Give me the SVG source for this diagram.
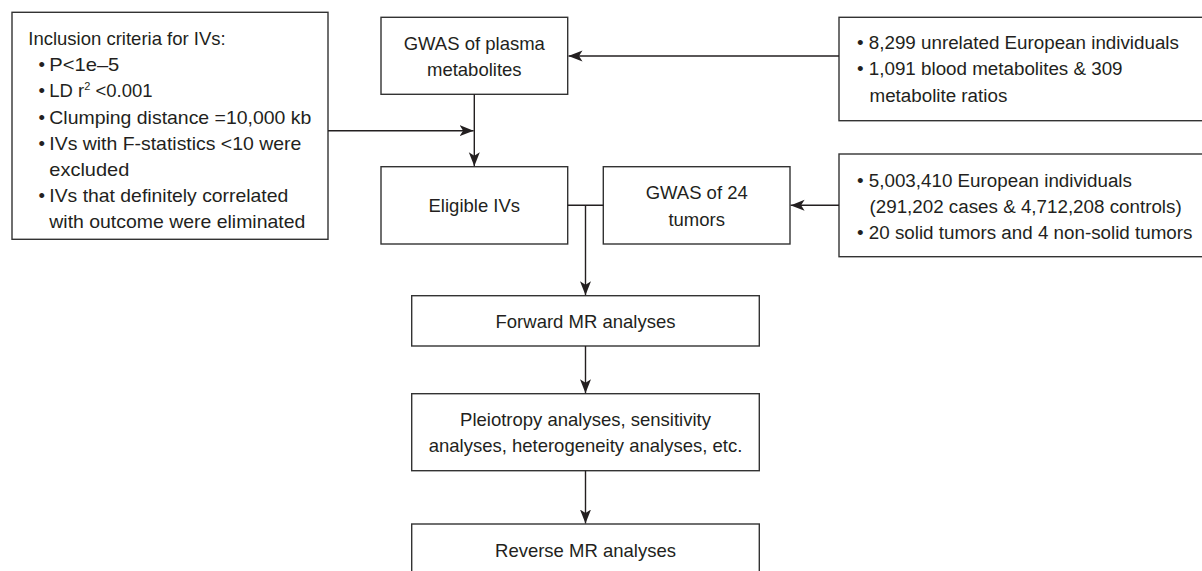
<svg xmlns="http://www.w3.org/2000/svg" width="1202" height="571" viewBox="0 0 1202 571">
  <style>
    .box { fill: #ffffff; stroke: #333333; stroke-width: 1.4; }
    .t { font-family: "Liberation Sans", Arial, Helvetica, sans-serif; font-size: 18.5px; fill: #231f20; }
    .r { font-size: 18.8px; }
    .c { text-anchor: middle; }
    .ln { fill: none; stroke: #231f20; stroke-width: 1.4; }
  </style>
  <defs>
    <marker id="arr" markerUnits="userSpaceOnUse" markerWidth="14" markerHeight="12" viewBox="0 -6 14 12" refX="14" refY="0" orient="auto">
      <path d="M0,-5.5 L14,0 L0,5.5 L3.5,0 Z" fill="#231f20"/>
    </marker>
  </defs>
  <rect width="1202" height="571" fill="#ffffff"/>

  <g id="criteria">
    <rect class="box" x="12" y="12.3" width="316" height="227"/>
    <text class="t" x="28.3" y="45">Inclusion criteria for IVs:</text>
    <text class="t" x="38.5" y="71.2">•</text>
    <text class="t" x="49.3" y="71.2" textLength="70" lengthAdjust="spacingAndGlyphs">P&lt;1e–5</text>
    <text class="t" x="38.5" y="97.4">•</text>
    <text class="t" x="49.3" y="97.4">LD r<tspan font-size="11" dy="-7.5">2</tspan><tspan dy="7.5"> &lt;0.001</tspan></text>
    <text class="t" x="38.5" y="123.6">•</text>
    <text class="t" x="49.3" y="123.6" textLength="262" lengthAdjust="spacingAndGlyphs">Clumping distance =10,000 kb</text>
    <text class="t" x="38.5" y="149.8">•</text>
    <text class="t" x="49.3" y="149.8" textLength="252" lengthAdjust="spacingAndGlyphs">IVs with F-statistics &lt;10 were</text>
    <text class="t" x="49.3" y="176" textLength="80" lengthAdjust="spacingAndGlyphs">excluded</text>
    <text class="t" x="38.5" y="202.2">•</text>
    <text class="t" x="49.3" y="202.2" textLength="239" lengthAdjust="spacingAndGlyphs">IVs that definitely correlated</text>
    <text class="t" x="49.3" y="228.4" textLength="256" lengthAdjust="spacingAndGlyphs">with outcome were eliminated</text>
  </g>

  <g id="gwas-plasma">
    <rect class="box" x="381" y="17.3" width="186.7" height="77"/>
    <text class="t c" x="474.3" y="50">GWAS of plasma</text>
    <text class="t c" x="474.3" y="76">metabolites</text>
  </g>

  <g id="metabolite-source">
    <rect class="box" x="839" y="17.3" width="400" height="103.4"/>
    <text class="t r" x="857" y="49.3">• 8,299 unrelated European individuals</text>
    <text class="t r" x="857" y="75.4">• 1,091 blood metabolites &amp; 309</text>
    <text class="t r" x="869.5" y="101.5">metabolite ratios</text>
  </g>

  <g id="eligible-ivs">
    <rect class="box" x="381" y="166.7" width="186.7" height="77.3"/>
    <text class="t c" x="474.3" y="211.7">Eligible IVs</text>
  </g>

  <g id="gwas-tumors">
    <rect class="box" x="603.3" y="166.7" width="186.7" height="77.3"/>
    <text class="t c" x="696.7" y="199">GWAS of 24</text>
    <text class="t c" x="696.7" y="225.5">tumors</text>
  </g>

  <g id="tumor-source">
    <rect class="box" x="839" y="154" width="400" height="102.7"/>
    <text class="t r" x="857" y="186.5">• 5,003,410 European individuals</text>
    <text class="t r" x="869.5" y="212.5">(291,202 cases &amp; 4,712,208 controls)</text>
    <text class="t r" x="857" y="238.5">• 20 solid tumors and 4 non-solid tumors</text>
  </g>

  <g id="forward-mr">
    <rect class="box" x="411.7" y="295.7" width="347.6" height="50.3"/>
    <text class="t c" x="585.5" y="328.3">Forward MR analyses</text>
  </g>

  <g id="pleiotropy">
    <rect class="box" x="411.7" y="393.7" width="347.6" height="77"/>
    <text class="t c" x="585.5" y="425.7">Pleiotropy analyses, sensitivity</text>
    <text class="t c" x="585.5" y="451.7">analyses, heterogeneity analyses, etc.</text>
  </g>

  <g id="reverse-mr">
    <rect class="box" x="411.7" y="524" width="347.6" height="80"/>
    <text class="t c" x="585.5" y="556.7">Reverse MR analyses</text>
  </g>

  <g id="connectors">
    <line class="ln" x1="839" y1="56" x2="568.5" y2="56" marker-end="url(#arr)"/>
    <line class="ln" x1="474.3" y1="94.3" x2="474.3" y2="166.2" marker-end="url(#arr)"/>
    <line class="ln" x1="328" y1="130.7" x2="473.6" y2="130.7" marker-end="url(#arr)"/>
    <line class="ln" x1="839" y1="205.3" x2="790.6" y2="205.3" marker-end="url(#arr)"/>
    <line class="ln" x1="567.7" y1="205.3" x2="603.3" y2="205.3"/>
    <line class="ln" x1="585.5" y1="205.3" x2="585.5" y2="295.2" marker-end="url(#arr)"/>
    <line class="ln" x1="585.5" y1="346" x2="585.5" y2="393.2" marker-end="url(#arr)"/>
    <line class="ln" x1="585.5" y1="470.7" x2="585.5" y2="523.5" marker-end="url(#arr)"/>
  </g>
</svg>
